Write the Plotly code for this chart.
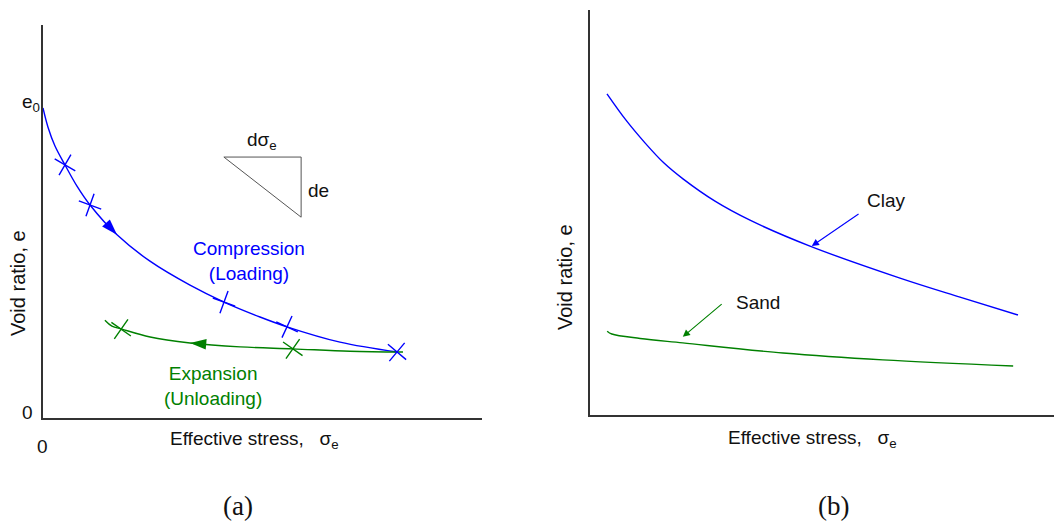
import plotly.graph_objects as go

W, H = 1055, 523

# ---- Panel (a): loading / unloading path ----
comp_stress = [0.0, 0.114, 0.273, 0.501, 0.774, 1.071, 1.686, 2.437, 3.349,
               4.123, 4.943, 5.558, 6.765, 8.064]
comp_e = [0.789, 0.740, 0.692, 0.644, 0.590, 0.542, 0.466, 0.399, 0.338,
          0.295, 0.257, 0.232, 0.193, 0.168]

exp_stress = [1.41, 1.57, 1.80, 2.44, 3.35, 4.49, 5.69, 6.99, 8.20]
exp_e = [0.249, 0.234, 0.226, 0.206, 0.191, 0.181, 0.176, 0.170, 0.168]

comp_tick_stress = [0.501, 1.071, 4.123, 5.558, 8.064]
comp_tick_e = [0.644, 0.542, 0.295, 0.232, 0.168]
comp_tick_angle = [30, 20, 20, 25, 40]

exp_tick_stress = [1.78, 5.69]
exp_tick_e = [0.226, 0.176]
exp_tick_angle = [35, 35]

comp_arrow = (1.686, 0.466, 137)
exp_arrow = (3.35, 0.191, 275)

# slope triangle  dσe / de
tri_x = [4.12, 5.88, 5.88, 4.12]
tri_y = [0.664, 0.664, 0.511, 0.664]

# ---- Panel (b): clay vs sand ----
clay_stress = [0.366, 0.776, 1.185, 1.595, 2.004, 2.694, 3.448, 4.741, 6.681, 7.974, 9.224]
clay_e = [0.793, 0.728, 0.672, 0.622, 0.583, 0.528, 0.481, 0.417, 0.338, 0.291, 0.247]

sand_stress = [0.37, 0.47, 1.08, 2.00, 4.16, 6.31, 9.12]
sand_e = [0.207, 0.200, 0.189, 0.178, 0.153, 0.136, 0.121]

BLUE = "#0000ff"
GREEN = "#008000"
AXIS = "#333333"
FONT = "Liberation Sans, Arial, sans-serif"
SERIF = "Liberation Serif, Times New Roman, serif"


def px(x):
    return x / W


def py(y):
    return 1 - y / H


fig = go.Figure()

# panel (a) curves
fig.add_trace(go.Scatter(x=comp_stress, y=comp_e, mode="lines",
                         line=dict(color=BLUE, width=1.4, shape="spline", smoothing=1.0),
                         xaxis="x", yaxis="y", hoverinfo="skip"))
fig.add_trace(go.Scatter(x=exp_stress, y=exp_e, mode="lines",
                         line=dict(color=GREEN, width=1.4, shape="spline", smoothing=1.0),
                         xaxis="x", yaxis="y", hoverinfo="skip"))
fig.add_trace(go.Scatter(x=comp_tick_stress, y=comp_tick_e, mode="markers",
                         marker=dict(symbol="cross-thin", size=17, angle=comp_tick_angle,
                                     line=dict(color=BLUE, width=1.4)),
                         xaxis="x", yaxis="y", hoverinfo="skip"))
fig.add_trace(go.Scatter(x=exp_tick_stress, y=exp_tick_e, mode="markers",
                         marker=dict(symbol="cross-thin", size=17, angle=exp_tick_angle,
                                     line=dict(color=GREEN, width=1.4)),
                         xaxis="x", yaxis="y", hoverinfo="skip"))
fig.add_trace(go.Scatter(x=[comp_arrow[0]], y=[comp_arrow[1]], mode="markers",
                         marker=dict(symbol="arrow", size=17, angle=comp_arrow[2], color=BLUE,
                                     line=dict(width=0)),
                         xaxis="x", yaxis="y", hoverinfo="skip"))
fig.add_trace(go.Scatter(x=[exp_arrow[0]], y=[exp_arrow[1]], mode="markers",
                         marker=dict(symbol="arrow", size=17, angle=exp_arrow[2], color=GREEN,
                                     line=dict(width=0)),
                         xaxis="x", yaxis="y", hoverinfo="skip"))
fig.add_trace(go.Scatter(x=tri_x, y=tri_y, mode="lines",
                         line=dict(color="#555555", width=1),
                         xaxis="x", yaxis="y", hoverinfo="skip"))

# panel (b) curves
fig.add_trace(go.Scatter(x=clay_stress, y=clay_e, mode="lines",
                         line=dict(color=BLUE, width=1.4, shape="spline", smoothing=1.0),
                         xaxis="x2", yaxis="y2", hoverinfo="skip"))
fig.add_trace(go.Scatter(x=sand_stress, y=sand_e, mode="lines",
                         line=dict(color=GREEN, width=1.4, shape="spline", smoothing=1.0),
                         xaxis="x2", yaxis="y2", hoverinfo="skip"))

axis_common = dict(showgrid=False, zeroline=False, showticklabels=False, ticks="",
                   showline=True, linecolor=AXIS, linewidth=2, mirror=False, fixedrange=True)

fig.update_layout(
    width=W, height=H, autosize=False,
    margin=dict(l=0, r=0, t=0, b=0, pad=0),
    paper_bgcolor="white", plot_bgcolor="white",
    showlegend=False,
    font=dict(family=FONT, size=19, color="#111111"),
    xaxis=dict(domain=[px(43), px(482)], range=[0, 10], anchor="y", **axis_common),
    yaxis=dict(domain=[py(418), py(25)], range=[0, 1], anchor="x", **axis_common),
    xaxis2=dict(domain=[px(590), px(1054)], range=[0, 10], anchor="y2", **axis_common),
    yaxis2=dict(domain=[py(415), py(10)], range=[0, 1], anchor="x2", **axis_common),
)

nb = "\u00a0"
ann = []


def label(text, x, y, color="#111111", size=19, angle=0, family=FONT):
    ann.append(dict(text=text, x=px(x), y=py(y), xref="paper", yref="paper",
                    showarrow=False, xanchor="center", yanchor="middle",
                    textangle=angle, font=dict(color=color, size=size, family=family)))


# panel (a) text
label("e<sub>0</sub>", 31, 103)
label("0", 27, 412)
label("0", 42, 446)
label("Void ratio, e", 18, 283, angle=-90, size=20)
label("Effective stress," + nb * 3 + "σ<sub>e</sub>", 254, 440)
label("Compression<br>(Loading)", 249, 261, color=BLUE)
label("Expansion<br>(Unloading)", 213, 386, color=GREEN)
label("dσ<sub>e</sub>", 262, 141)
label("de", 318, 190)
label("(a)", 238, 506, size=27, family=SERIF)

# panel (b) text
label("Void ratio, e", 565, 277, angle=-90, size=20)
label("Effective stress," + nb * 3 + "σ<sub>e</sub>", 812, 439)
label("Clay", 886, 201)
label("Sand", 758, 302)
label("(b)", 833, 506, size=27, family=SERIF)

# pointer arrows in panel (b)
ann.append(dict(x=4.78, y=0.417, ax=5.82, ay=0.499, xref="x2", yref="y2",
                axref="x2", ayref="y2", showarrow=True, arrowhead=2, arrowsize=1.3,
                arrowwidth=1.1, arrowcolor=BLUE, text=""))
ann.append(dict(x=2.00, y=0.193, ax=2.87, ay=0.277, xref="x2", yref="y2",
                axref="x2", ayref="y2", showarrow=True, arrowhead=2, arrowsize=1.3,
                arrowwidth=1.1, arrowcolor=GREEN, text=""))

fig.update_layout(annotations=ann)
fig.write_html("out.html")
